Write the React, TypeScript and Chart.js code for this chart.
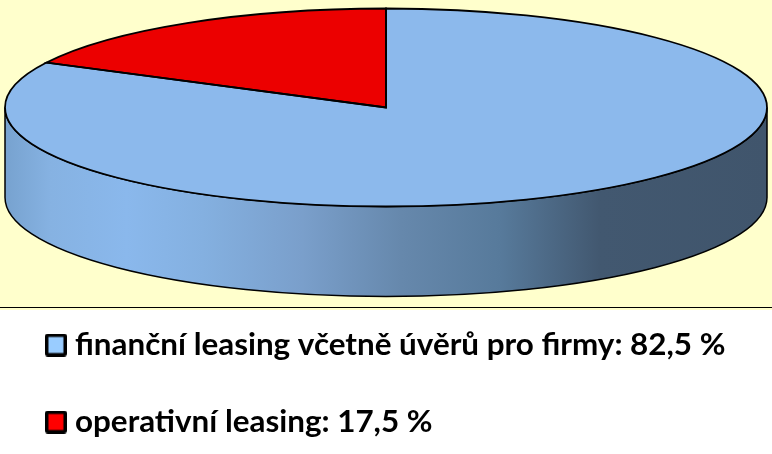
import React, { useEffect, useRef } from "react";
import { Chart, registerables } from "chart.js";

Chart.register(...registerables);

const categories = ["finanční leasing včetně úvěrů pro firmy: 82,5 %", "operativní leasing: 17,5 %"];
const shares = [82.5, 17.5];
const sliceColors = ["#8CB9EC", "#EC0000"];
const swatchColors = ["#99CCFF", "#FF0000"];
const wallStops: [number, string][] = [
  [0, "#77A2CF"],
  [0.06, "#86B2E2"],
  [0.16, "#8AB8EC"],
  [0.26, "#84B0E0"],
  [0.39, "#7A9FCB"],
  [0.52, "#6688AC"],
  [0.65, "#577A9B"],
  [0.78, "#425870"],
  [1, "#40556C"],
];

const CX = 386, CY = 107.5, RX = 381, RY = 99, DEPTH = 90;
const FONT_SIZE = 31.4;
const ROW_GAP = 77;

function swatch(color: string) {
  const c = document.createElement("canvas");
  c.width = 22; c.height = 23;
  const x = c.getContext("2d")!;
  x.fillStyle = "#000";
  x.beginPath();
  x.roundRect(0, 0, 22, 23, 3);
  x.fill();
  x.fillStyle = color;
  x.fillRect(3.5, 3.5, 15, 16);
  return c;
}

const pie3d = {
  id: "pie3d",
  beforeDraw(chart: any) {
    const { ctx, width, height } = chart;
    ctx.save();
    ctx.fillStyle = "#FFFFFF";
    ctx.fillRect(0, 0, width, height);
    ctx.fillStyle = "#FFFFCC";
    ctx.fillRect(0, 0, width, 310);
    ctx.fillStyle = "#000";
    ctx.fillRect(0, 307, width, 1);
    ctx.restore();
  },
  afterLayout(chart: any) {
    const l = chart.legend;
    const padding = ROW_GAP - FONT_SIZE;
    l.left = 52.5 - padding;
    l.top = 345 - padding - FONT_SIZE / 2;
  },
  beforeDatasetsDraw(chart: any) {
    const { ctx } = chart;
    const arc = chart.getDatasetMeta(0).data[0];
    ctx.save();
    const g = ctx.createLinearGradient(CX - RX, 0, CX + RX, 0);
    wallStops.forEach(([o, c]) => g.addColorStop(o, c));
    ctx.beginPath();
    ctx.ellipse(CX, CY, RX, RY, 0, 0, Math.PI);
    ctx.lineTo(CX - RX, CY + DEPTH);
    ctx.ellipse(CX, CY + DEPTH, RX, RY, 0, Math.PI, 0, true);
    ctx.closePath();
    ctx.fillStyle = g;
    ctx.fill();
    ctx.strokeStyle = "#000";
    ctx.lineWidth = 1.5;
    ctx.stroke();
    ctx.restore();
    ctx.save();
    ctx.translate(CX, CY);
    ctx.scale(RX / arc.outerRadius, RY / arc.outerRadius);
    ctx.translate(-arc.x, -arc.y);
  },
  afterDatasetsDraw(chart: any) {
    const { ctx } = chart;
    const arcs = chart.getDatasetMeta(0).data;
    arcs.forEach((a: any) => {
      ctx.save();
      ctx.beginPath();
      ctx.moveTo(a.x, a.y);
      ctx.arc(a.x, a.y, a.outerRadius, a.startAngle, a.endAngle);
      ctx.closePath();
      ctx.setTransform(1, 0, 0, 1, 0, 0);
      ctx.strokeStyle = "#000";
      ctx.lineWidth = 1.8;
      ctx.lineJoin = "miter";
      ctx.stroke();
      ctx.restore();
    });
    ctx.restore();
  },
};

export default function App() {
  const ref = useRef<HTMLCanvasElement>(null);
  useEffect(() => {
    document.body.style.margin = "0";
    const chart = new Chart(ref.current!, {
      type: "pie",
      data: {
        labels: categories,
        datasets: [{ data: shares, backgroundColor: sliceColors, borderWidth: 0, clip: false } as any],
      },
      options: {
        responsive: false,
        animation: false,
        devicePixelRatio: 1,
        plugins: {
          tooltip: { enabled: false },
          title: { display: false },
          legend: {
            display: true,
            position: "bottom",
            align: "start",
            labels: {
              usePointStyle: true,
              pointStyleWidth: 8 - (FONT_SIZE - 29) / 2,
              boxHeight: 8,
              padding: ROW_GAP - FONT_SIZE,
              color: "#000",
              font: { family: "Lato", weight: "bold", size: FONT_SIZE },
              generateLabels: () =>
                categories.map((text, i) => ({
                  text,
                  pointStyle: swatch(swatchColors[i]),
                  fillStyle: swatchColors[i],
                  strokeStyle: "#000",
                  lineWidth: 0,
                  hidden: false,
                  index: i,
                })),
            },
          },
        },
      } as any,
      plugins: [pie3d],
    });
    return () => chart.destroy();
  }, []);
  return <canvas ref={ref} width={772} height={454} style={{ display: "block" }} />;
}
